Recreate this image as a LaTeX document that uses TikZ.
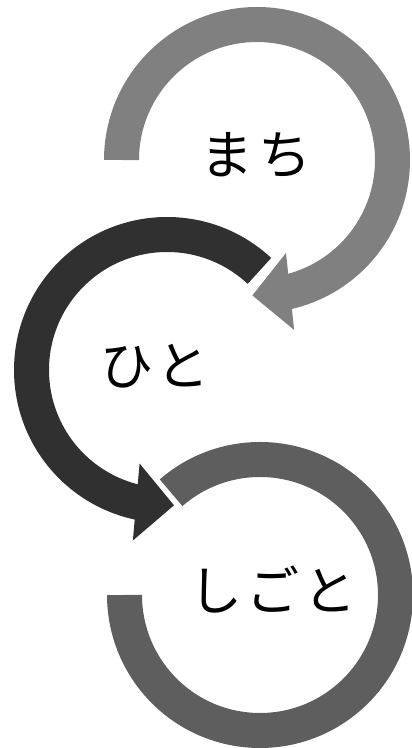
\documentclass[tikz,border=0pt]{standalone}
\usepackage{fontspec}
\newfontfamily\jpfont[LetterSpace=8]{Noto Sans CJK JP}
\usetikzlibrary{arrows.meta,bending}

\begin{document}
\begin{tikzpicture}[
    x=1pt, y=1pt,
    ring/.style={line width=35pt, -{Triangle[width=75pt,length=38pt]}},
    plainring/.style={line width=35pt},
    word/.style={font=\jpfont\fontsize{53}{60}\selectfont, inner sep=0pt}
  ]
    \useasboundingbox (0,0) rectangle (412,748);
    \coordinate (c1) at (257,588);
    \coordinate (c2) at (167,378);
    \coordinate (c3) at (260,153);
    \node[word] (machi) at (256,593) {まち};
    \node[word] (hito) at (155,382) {ひと};
    \node[word] (shigoto) at (273,158) {しごと};
    \draw[ring, color=black!50] ([shift={(180:135.5)}]c1) arc[start angle=180, end angle=-92, radius=135.5];
    \draw[ring, color=black!81] ([shift={(47:135.5)}]c2) arc[start angle=47, end angle=273, radius=135.5];
    \draw[plainring, color=black!63] ([shift={(131:135.5)}]c3) arc[start angle=131, end angle=-180, radius=135.5];
  \end{tikzpicture}
\end{document}
